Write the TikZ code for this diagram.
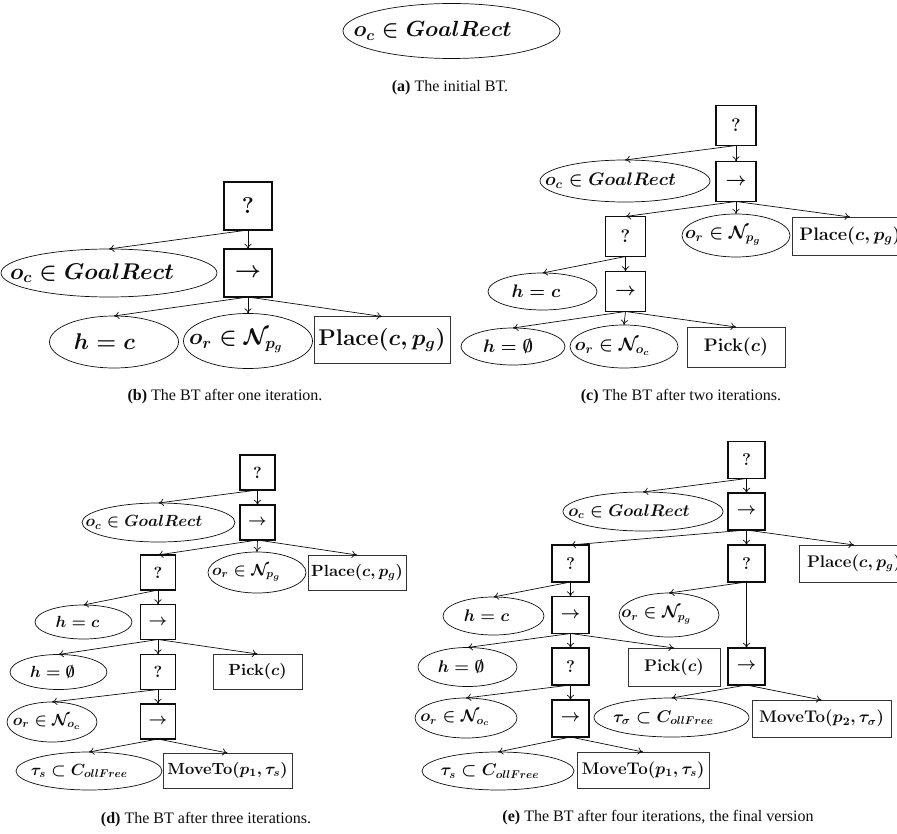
\RequirePackage{fix-cm}
\documentclass[tikz,border=0pt]{standalone}
\usepackage{amsmath,amssymb}
\usepackage[no-math]{fontspec}
\setmainfont{Liberation Serif}
\usetikzlibrary{arrows.meta,shapes.geometric}
\definecolor{TreeInk}{gray}{0.05}
\definecolor{TreeAction}{gray}{0.2}
% condition text sits a little left of the ellipse centre
\newcommand{\condlabel}[2]{\makebox[0pt]{$#1$\hspace*{#2}}}
\tikzset{
    bt/diagram/.style={
        draw=TreeInk,
        text=TreeInk,
        line width=0.5pt,
        every node/.style={inner sep=0pt, outer sep=0pt}
    },
    bt/cond/.style 2 args={
        ellipse, draw=TreeInk, line width=0.5pt,
        minimum width=#1*0.25mm, minimum height=#2*0.25mm
    },
    bt/ctrl/.style={
        rectangle, draw=TreeInk, line width=1pt,
        minimum size=#1*0.25mm
    },
    bt/act/.style 2 args={
        rectangle, draw=TreeAction, line width=0.6pt,
        minimum width=#1*0.25mm, minimum height=#2*0.25mm
    },
    bt/edge/.style={draw=TreeInk, line width=0.5pt, -{To[length=1.3mm, width=1.8mm]}},
    bt/caption/.style={font=\fontsize{11.4}{13}\selectfont}
}

\begin{document}
\begin{tikzpicture}[bt/diagram, x=0.25mm, y=-0.25mm]
    \useasboundingbox (0,0) rectangle (897,834);
    % (a) initial tree
    \begin{scope}[font=\fontsize{15.6}{18}\selectfont\boldmath]
        \node[bt/cond={217}{55}] (aGoal) at (451.5,31) {\condlabel{o_c \in GoalRect}{9.5mm}};
    \end{scope}
    \node[bt/caption] (capA) at (450,88) {\textbf{(a)} The initial BT.};
    % (b) one iteration
    \begin{scope}[font=\fontsize{16.2}{19}\selectfont\boldmath]
        \node[bt/ctrl=48] (bRoot) at (248,206) {$\mathbf{?}$};
        \node[bt/ctrl=48] (bSeq) at (248,273) {$\rightarrow$};
        \node[bt/cond={216}{48}] (bGoal) at (109,273) {\condlabel{o_c \in GoalRect}{8.5mm}};
        \node[bt/cond={129}{52}] (bHold) at (114,342) {\condlabel{h = c}{4.75mm}};
        \node[bt/cond={129}{55}] (bNear) at (248,341) {\condlabel{o_r \in \mathcal{N}_{p_g}}{6mm}};
        \node[bt/act={136}{47}] (bPlace) at (382,340) {$\mathbf{Place}(c, p_g)$};
    \end{scope}
    \draw[bt/edge] (bRoot.south) -- (bGoal.north);
    \draw[bt/edge] (bRoot.south) -- (bSeq.north);
    \draw[bt/edge] (bSeq.south) -- (bHold.north);
    \draw[bt/edge] (bSeq.south) -- (bNear.north);
    \draw[bt/edge] (bSeq.south) -- (bPlace.north);
    \node[bt/caption] (capB) at (225,397) {\textbf{(b)} The BT after one iteration.};
    % (c) two iterations
    \begin{scope}[font=\fontsize{12.9}{15}\selectfont\boldmath]
        \node[bt/ctrl=40] (cRoot) at (736,125.5) {$\mathbf{?}$};
        \node[bt/ctrl=40] (cSeq) at (736,181.5) {$\rightarrow$};
        \node[bt/cond={170}{42}] (cGoal) at (625,181) {\condlabel{o_c \in GoalRect}{7.25mm}};
        \node[bt/ctrl=40] (cFb) at (625.5,236.5) {$\mathbf{?}$};
        \node[bt/cond={108}{43}] (cNear) at (736,235.5) {\condlabel{o_r \in \mathcal{N}_{p_g}}{6.5mm}};
        \node[bt/act={116}{38}] (cPlace) at (850,236) {$\mathbf{Place}(c, p_g)$};
        \node[bt/cond={109}{37}] (cHold) at (542.5,291.5) {\condlabel{h = c}{3.25mm}};
        \node[bt/ctrl=40] (cSub) at (625.5,291.5) {$\rightarrow$};
        \node[bt/cond={104}{37}] (cFree) at (513,346.5) {\condlabel{h = \emptyset}{2.5mm}};
        \node[bt/cond={108}{43}] (cNearObj) at (624,346.5) {\condlabel{o_r \in \mathcal{N}_{o_c}}{5.75mm}};
        \node[bt/act={98}{40}] (cPick) at (736,347) {$\mathbf{Pick}(c)$};
    \end{scope}
    \draw[bt/edge] (cRoot.south) -- (cGoal.north);
    \draw[bt/edge] (cRoot.south) -- (cSeq.north);
    \draw[bt/edge] (cSeq.south) -- (cFb.north);
    \draw[bt/edge] (cSeq.south) -- (cNear.north);
    \draw[bt/edge] (cSeq.south) -- (cPlace.north);
    \draw[bt/edge] (cFb.south) -- (cHold.north);
    \draw[bt/edge] (cFb.south) -- (cSub.north);
    \draw[bt/edge] (cSub.south) -- (cFree.north);
    \draw[bt/edge] (cSub.south) -- (cNearObj.north);
    \draw[bt/edge] (cSub.south) -- (cPick.north);
    \node[bt/caption] (capC) at (681,397) {\textbf{(c)} The BT after two iterations.};
    % (d) three iterations
    \begin{scope}[font=\fontsize{11.5}{14}\selectfont\boldmath]
        \node[bt/ctrl=35] (dRoot) at (257.5,472.5) {$\mathbf{?}$};
        \node[bt/ctrl=35] (dSeq) at (257.5,522.5) {$\rightarrow$};
        \node[bt/cond={153}{39}] (dGoal) at (158.5,522.5) {\condlabel{o_c \in GoalRect}{7.25mm}};
        \node[bt/ctrl=35] (dFb) at (158,572.5) {$\mathbf{?}$};
        \node[bt/cond={98}{41}] (dNear) at (257,572.5) {\condlabel{o_r \in \mathcal{N}_{p_g}}{5.25mm}};
        \node[bt/act={98}{35}] (dPlace) at (357,572.5) {$\mathbf{Place}(c, p_g)$};
        \node[bt/cond={97}{34}] (dHold) at (83.5,622) {\condlabel{h = c}{3mm}};
        \node[bt/ctrl=35] (dSub) at (158,622) {$\rightarrow$};
        \node[bt/cond={97}{35}] (dFree) at (58.5,672) {\condlabel{h = \emptyset}{3mm}};
        \node[bt/ctrl=35] (dFbObj) at (158,672) {$\mathbf{?}$};
        \node[bt/act={89}{35}] (dPick) at (257.5,671.5) {$\mathbf{Pick}(c)$};
        \node[bt/cond={90}{40}] (dNearObj) at (52,722) {\condlabel{o_r \in \mathcal{N}_{o_c}}{2.5mm}};
        \node[bt/ctrl=35] (dReach) at (158,721.5) {$\rightarrow$};
        \node[bt/cond={146}{38}] (dPath) at (89,771) {\condlabel{\tau_s \subset C_{ollFree}}{4.75mm}};
        \node[bt/act={129}{35}] (dMove) at (227.5,770.5) {$\mathbf{MoveTo}(p_1, \tau_s)$};
    \end{scope}
    \draw[bt/edge] (dRoot.south) -- (dGoal.north);
    \draw[bt/edge] (dRoot.south) -- (dSeq.north);
    \draw[bt/edge] (dSeq.south) -- (dFb.north);
    \draw[bt/edge] (dSeq.south) -- (dNear.north);
    \draw[bt/edge] (dSeq.south) -- (dPlace.north);
    \draw[bt/edge] (dFb.south) -- (dHold.north);
    \draw[bt/edge] (dFb.south) -- (dSub.north);
    \draw[bt/edge] (dSub.south) -- (dFree.north);
    \draw[bt/edge] (dSub.south) -- (dFbObj.north);
    \draw[bt/edge] (dSub.south) -- (dPick.north);
    \draw[bt/edge] (dFbObj.south) -- (dNearObj.north);
    \draw[bt/edge] (dFbObj.south) -- (dReach.north);
    \draw[bt/edge] (dReach.south) -- (dPath.north);
    \draw[bt/edge] (dReach.south) -- (dMove.north);
    \node[bt/caption] (capD) at (206,820) {\textbf{(d)} The BT after three iterations.};
    % (e) four iterations, final
    \begin{scope}[font=\fontsize{12}{14}\selectfont\boldmath]
        \node[bt/ctrl=37] (eRoot) at (746.5,460) {$\mathbf{?}$};
        \node[bt/ctrl=37] (eSeq) at (746.5,511.5) {$\rightarrow$};
        \node[bt/cond={160}{39}] (eGoal) at (643,511.5) {\condlabel{o_c \in GoalRect}{7mm}};
        \node[bt/ctrl=37] (eFb) at (570.5,563.5) {$\mathbf{?}$};
        \node[bt/ctrl=37] (eFbPlace) at (746.5,563.5) {$\mathbf{?}$};
        \node[bt/act={110}{37}] (ePlace) at (854,563.5) {$\mathbf{Place}(c, p_g)$};
        \node[bt/cond={101}{38}] (eHold) at (493.5,616) {\condlabel{h = c}{3.5mm}};
        \node[bt/ctrl=37] (eSub) at (570.5,615) {$\rightarrow$};
        \node[bt/cond={100}{44}] (eNear) at (669,615) {\condlabel{o_r \in \mathcal{N}_{p_g}}{6.25mm}};
        \node[bt/cond={99}{39}] (eFree) at (467.5,667) {\condlabel{h = \emptyset}{3.25mm}};
        \node[bt/ctrl=37] (eFbObj) at (570.5,666.5) {$\mathbf{?}$};
        \node[bt/act={92}{38}] (ePick) at (674,667) {$\mathbf{Pick}(c)$};
        \node[bt/ctrl=37] (eReachPlace) at (746.5,666.5) {$\rightarrow$};
        \node[bt/cond={102}{40}] (eNearObj) at (466,718) {\condlabel{o_r \in \mathcal{N}_{o_c}}{5.5mm}};
        \node[bt/ctrl=37] (eReach) at (570.5,718.5) {$\rightarrow$};
        \node[bt/cond={155}{39}] (ePathPlace) at (671.5,717.5) {\condlabel{\tau_\sigma \subset C_{ollFree}}{4mm}};
        \node[bt/act={139}{37}] (eMovePlace) at (821.5,718.5) {$\mathbf{MoveTo}(p_2, \tau_\sigma)$};
        \node[bt/cond={152}{38}] (ePath) at (498,771) {\condlabel{\tau_s \subset C_{ollFree}}{4mm}};
        \node[bt/act={132}{36}] (eMove) at (643,770) {$\mathbf{MoveTo}(p_1, \tau_s)$};
    \end{scope}
    \draw[bt/edge] (eRoot.south) -- (eGoal.north);
    \draw[bt/edge] (eRoot.south) -- (eSeq.north);
    \draw[bt/edge] (eSeq.south) -- (eFb.north);
    \draw[bt/edge] (eSeq.south) -- (eFbPlace.north);
    \draw[bt/edge] (eSeq.south) -- (ePlace.north);
    \draw[bt/edge] (eFb.south) -- (eHold.north);
    \draw[bt/edge] (eFb.south) -- (eSub.north);
    \draw[bt/edge] (eFbPlace.south) -- (eNear.north);
    \draw[bt/edge] (eFbPlace.south) -- (eReachPlace.north);
    \draw[bt/edge] (eSub.south) -- (eFree.north);
    \draw[bt/edge] (eSub.south) -- (eFbObj.north);
    \draw[bt/edge] (eSub.south) -- (ePick.north);
    \draw[bt/edge] (eFbObj.south) -- (eNearObj.north);
    \draw[bt/edge] (eFbObj.south) -- (eReach.north);
    \draw[bt/edge] (eReach.south) -- (ePath.north);
    \draw[bt/edge] (eReach.south) -- (eMove.north);
    \draw[bt/edge] (eReachPlace.south) -- (ePathPlace.north);
    \draw[bt/edge] (eReachPlace.south) -- (eMovePlace.north);
    \node[bt/caption] (capE) at (658,818) {\textbf{(e)} The BT after four iterations, the final version};
\end{tikzpicture}
\end{document}
